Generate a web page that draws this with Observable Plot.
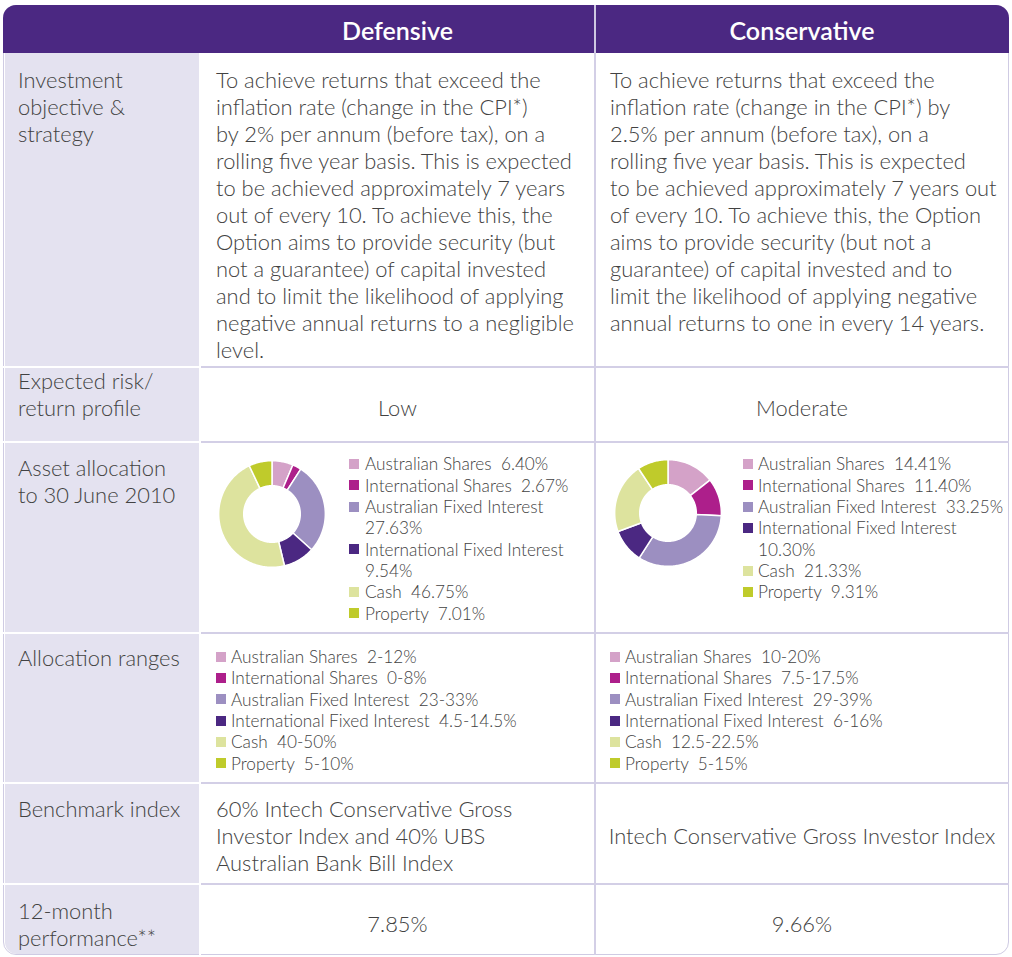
<!DOCTYPE html>
<html><head><meta charset="utf-8">
<script src="https://cdn.jsdelivr.net/npm/d3@7"></script>
<script src="https://cdn.jsdelivr.net/npm/@observablehq/plot@0.6"></script>
<style>
body{margin:0;background:#fff;font-family:Lato,"Open Sans",sans-serif;color:#3a3a3a;}
#page{position:relative;width:1012px;height:957px;overflow:hidden;background:#fff}
</style></head><body><div id="page"></div>
<script>
// ---------- data ----------
const options = ["Defensive", "Conservative"];
const rowLabels = [
  ["Investment", "objective &", "strategy"],
  ["Expected risk/", "return profile"],
  ["Asset allocation", "to 30 June 2010"],
  ["Allocation ranges"],
  ["Benchmark index"],
  ["12-month", "performance**"]
];
const objectiveDefensive = [
  "To achieve returns that exceed the",
  "inflation rate (change in the CPI*)",
  "by 2% per annum (before tax), on a",
  "rolling five year basis. This is expected",
  "to be achieved approximately 7 years",
  "out of every 10. To achieve this, the",
  "Option aims to provide security (but",
  "not a guarantee) of capital invested",
  "and to limit the likelihood of applying",
  "negative annual returns to a negligible",
  "level."
];
const objectiveConservative = [
  "To achieve returns that exceed the",
  "inflation rate (change in the CPI*) by",
  "2.5% per annum (before tax), on a",
  "rolling five year basis. This is expected",
  "to be achieved approximately 7 years out",
  "of every 10. To achieve this, the Option",
  "aims to provide security (but not a",
  "guarantee) of capital invested and to",
  "limit the likelihood of applying negative",
  "annual returns to one in every 14 years."
];
const riskProfile = ["Low", "Moderate"];
const categories = ["Australian Shares", "International Shares", "Australian Fixed Interest", "International Fixed Interest", "Cash", "Property"];
const categoryColors = ["#d4a2c8", "#ad1f8b", "#9c8fc1", "#4b2882", "#dde39e", "#bfcb2b"];
const defensiveAlloc = [6.40, 2.67, 27.63, 9.54, 46.75, 7.01];
const conservativeAlloc = [14.41, 11.40, 33.25, 10.30, 21.33, 9.31];
const defensiveRanges = ["2-12%", "0-8%", "23-33%", "4.5-14.5%", "40-50%", "5-10%"];
const conservativeRanges = ["10-20%", "7.5-17.5%", "29-39%", "6-16%", "12.5-22.5%", "5-15%"];
const benchmarkDefensive = ["60% Intech Conservative Gross", "Investor Index and 40% UBS", "Australian Bank Bill Index"];
const benchmarkConservative = ["Intech Conservative Gross Investor Index"];
const performance = ["7.85%", "9.66%"];

// ---------- layout ----------
const colX = [3, 200, 595, 1009];
const rowY = [5, 53, 367, 442, 633, 783, 884, 955];
const HEADER = "#4b2882", LABELBG = "#e4e2f0", GRID = "#d3cfe6";
const TEXT = "#424242";
const page = document.getElementById("page");

function el(tag, css, html) {
  const e = document.createElement(tag);
  Object.assign(e.style, css);
  if (html !== undefined) e.innerHTML = html;
  page.appendChild(e);
  return e;
}
function esc(s) { return s.replace(/&/g, "&amp;").replace(/</g, "&lt;"); }

// frame
el("div", {position:"absolute", left:colX[0]+"px", top:rowY[0]+"px", width:(colX[3]-colX[0])+"px", height:(rowY[7]-rowY[0])+"px",
  borderRadius:"13px", overflow:"hidden", boxSizing:"border-box", border:"1.5px solid #cfcbe3", background:"#fff"});
// label column
el("div", {position:"absolute", left:(colX[0]+1.5)+"px", top:rowY[1]+"px", width:(colX[1]-colX[0]-1.5)+"px", height:(rowY[7]-rowY[1]-1.5)+"px",
  background:LABELBG, borderBottomLeftRadius:"12px"});
// header
el("div", {position:"absolute", left:colX[0]+"px", top:rowY[0]+"px", width:(colX[3]-colX[0])+"px", height:(rowY[1]-rowY[0])+"px",
  background:HEADER, borderTopLeftRadius:"13px", borderTopRightRadius:"13px"});
// header separator
el("div", {position:"absolute", left:(colX[2]-1)+"px", top:rowY[0]+"px", width:"2px", height:(rowY[1]-rowY[0])+"px", background:"#cfc8e2"});
// grid lines
for (let r = 2; r < rowY.length - 1; r++) {
  el("div", {position:"absolute", left:colX[0]+"px", top:(rowY[r]-1)+"px", width:(colX[1]-colX[0])+"px", height:"2px", background:"#fff"});
  el("div", {position:"absolute", left:colX[1]+"px", top:(rowY[r]-1)+"px", width:(colX[3]-colX[1])+"px", height:"2px", background:GRID});
}
el("div", {position:"absolute", left:(colX[1]-1)+"px", top:rowY[1]+"px", width:"2px", height:(rowY[7]-rowY[1])+"px", background:"#fff"});
el("div", {position:"absolute", left:(colX[2]-1)+"px", top:rowY[1]+"px", width:"2px", height:(rowY[7]-rowY[1])+"px", background:GRID});

// text helpers
const FS = 21.9, LH = 27;
function textBlock(lines, x, yCenterFirst, align, opts = {}) {
  const fs = opts.fs || FS, lh = opts.lh || LH;
  const css = {position:"absolute", top:(yCenterFirst - lh/2)+"px", fontSize:fs+"px", lineHeight:lh+"px", whiteSpace:"pre",
    color:opts.color||TEXT, fontWeight:opts.weight||"300"};
  if (align === "center") { css.left = (x - 300)+"px"; css.width = "600px"; css.textAlign = "center"; }
  else css.left = x + "px";
  el("div", css, lines.map(esc).join("<br>"));
}

// header texts
options.forEach((o, i) => textBlock([o], (colX[i+1] + colX[i+2]) / 2, 29.5, "center", {fs:25, lh:30, weight:"600", color:"#fff"}));

// row labels
const labelCenters = [79, 380, 467, 657, 808, 910];
rowLabels.forEach((lines, i) => textBlock(lines, 18, labelCenters[i], "left"));

// objective
textBlock(objectiveDefensive, 216, 79, "left");
textBlock(objectiveConservative, 610, 79, "left");
// risk
riskProfile.forEach((r, i) => textBlock([r], (colX[i+1] + colX[i+2]) / 2, 407, "center"));
// benchmark
textBlock(benchmarkDefensive, 216, 808, "left");
textBlock(benchmarkConservative, (colX[2] + colX[3]) / 2, 835, "center");
// performance
performance.forEach((p, i) => textBlock([p], (colX[i+1] + colX[i+2]) / 2, 923, "center"));

// ---------- donuts drawn with Plot ----------
const R_IN = 0.53;
function donut(values) {
  const total = d3.sum(values);
  const rows = [];
  let a0 = 0;
  values.forEach((v, i) => {
    const a1 = a0 + v / total * 2 * Math.PI;
    const n = Math.max(2, Math.ceil((a1 - a0) / 0.02) + 1);
    for (let k = 0; k < n; k++) {
      const a = a0 + (a1 - a0) * k / (n - 1);
      rows.push({cat: categories[i], x1: R_IN * Math.sin(a), y1: R_IN * Math.cos(a), x2: Math.sin(a), y2: Math.cos(a)});
    }
    a0 = a1;
  });
  return Plot.plot({
    width: 112, height: 112, margin: 0,
    x: {domain: [-1.05, 1.05], axis: null},
    y: {domain: [-1.05, 1.05], axis: null},
    color: {domain: categories, range: categoryColors},
    marks: [Plot.area(rows, {x1: "x1", y1: "y1", x2: "x2", y2: "y2", z: "cat", fill: "cat", stroke: "white", strokeWidth: 1.5})]
  });
}
function placeDonut(values, cx, cy) {
  const svg = donut(values);
  const wrap = el("div", {position:"absolute", left:(cx - 56)+"px", top:(cy - 56)+"px", width:"112px", height:"112px"});
  svg.style.background = "transparent";
  wrap.appendChild(svg);
  return svg;
}
const plot1 = placeDonut(defensiveAlloc, 272, 514);
placeDonut(conservativeAlloc, 668, 513);
const colorScale = plot1.scale("color");

// ---------- legends ----------
const LFS = 17.2, LLH = 21.35;
function legend(entries, sqX, textX, yFirst, wrapIdx) {
  let line = 0;
  entries.forEach((e, i) => {
    const y = yFirst + line * LLH;
    el("div", {position:"absolute", left:sqX+"px", top:(y - 5)+"px", width:"10px", height:"10px", background: colorScale.apply(categories[i])});
    const lines = wrapIdx.includes(i) ? [categories[i], e] : [categories[i] + "  " + e];
    textBlock(lines, textX, y, "left", {fs: LFS, lh: LLH});
    line += lines.length;
  });
}
legend(defensiveAlloc.map(v => v.toFixed(2) + "%"), 349, 365, 464, [2, 3]);
legend(conservativeAlloc.map(v => v.toFixed(2) + "%"), 743, 758, 464, [3]);
legend(defensiveRanges, 216, 231, 656.5, []);
legend(conservativeRanges, 610, 625, 656.5, []);
</script></body></html>
